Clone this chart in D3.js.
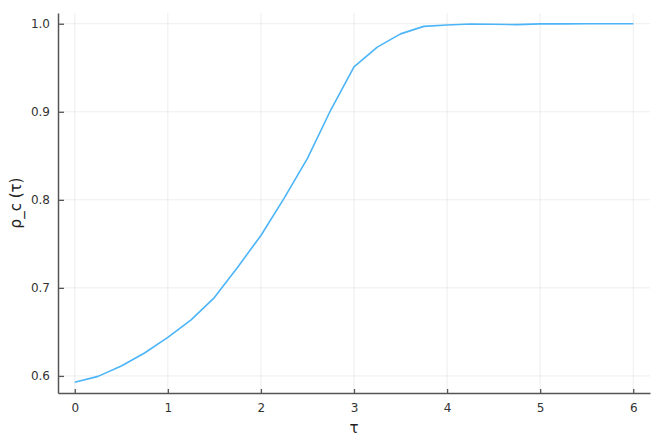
<!DOCTYPE html>
<html>
<head>
<meta charset="utf-8">
<script src="https://cdn.jsdelivr.net/npm/d3@7"></script>
<style>
  body { margin: 0; background: #fff; }
  svg { font-family: "DejaVu Sans", sans-serif; }
</style>
</head>
<body>
<div id="chart"></div>
<script>
// tau values and rho_c(tau)
var tau = [0, 0.25, 0.5, 0.75, 1, 1.25, 1.5, 1.75, 2, 2.25, 2.5, 2.75, 3,
           3.25, 3.5, 3.75, 4, 4.25, 4.5, 4.75, 5, 5.25, 5.5, 5.75, 6];
var rho = [0.5928, 0.5995, 0.6112, 0.626, 0.6437, 0.6636, 0.689, 0.7235, 0.7595,
           0.802, 0.847, 0.902, 0.951, 0.9735, 0.9885, 0.997, 0.9985, 0.9997,
           0.9995, 0.999, 0.9998, 0.9999, 1.0, 1.0, 1.0];
var xTicks = [0, 1, 2, 3, 4, 5, 6];
var yTicks = [0.6, 0.7, 0.8, 0.9, 1.0];

var width = 664, height = 443;
var plotL = 58, plotR = 650, plotT = 13, plotB = 393;

var svg = d3.select("#chart").append("svg")
    .attr("width", width)
    .attr("height", height);

var x = d3.scaleLinear().domain([-0.18, 6.18]).range([plotL, plotR]);
var y = d3.scaleLinear().domain([0.5806, 1.0122]).range([plotB, plotT]);

// grid
svg.append("g").selectAll("line").data(xTicks).join("line")
    .attr("x1", d => x(d)).attr("x2", d => x(d))
    .attr("y1", plotT).attr("y2", plotB)
    .attr("stroke", "#000").attr("stroke-opacity", 0.07);
svg.append("g").selectAll("line").data(yTicks).join("line")
    .attr("x1", plotL).attr("x2", plotR)
    .attr("y1", d => y(d)).attr("y2", d => y(d))
    .attr("stroke", "#000").attr("stroke-opacity", 0.07);

// axes
var xAxis = svg.append("g")
    .attr("transform", "translate(0," + plotB + ")")
    .call(d3.axisBottom(x).tickValues(xTicks).tickFormat(d3.format("d"))
        .tickSizeInner(-4).tickSizeOuter(0).tickPadding(10));
var yAxis = svg.append("g")
    .attr("transform", "translate(" + plotL + ",0)")
    .call(d3.axisLeft(y).tickValues(yTicks).tickFormat(d3.format(".1f"))
        .tickSizeInner(-6).tickSizeOuter(0).tickPadding(8));

[xAxis, yAxis].forEach(function(a) {
  a.attr("font-family", null).attr("font-size", null);
  a.select(".domain").attr("stroke", "#555").attr("stroke-width", 1.5);
  a.selectAll(".tick line").attr("stroke", "#555").attr("stroke-width", 1.3);
  a.selectAll(".tick text").attr("fill", "#333").attr("font-size", 12);
});

// line
var line = d3.line()
    .x((d, i) => x(tau[i]))
    .y(d => y(d));
svg.append("path")
    .datum(rho)
    .attr("fill", "none")
    .attr("stroke", "#4cb5f8")
    .attr("stroke-width", 1.6)
    .attr("stroke-linejoin", "round")
    .attr("d", line);

// labels
svg.append("text")
    .attr("x", (plotL + plotR) / 2)
    .attr("y", 433)
    .attr("text-anchor", "middle")
    .attr("fill", "#222")
    .attr("font-size", 15)
    .text("τ");
svg.append("text")
    .attr("transform", "translate(21," + (plotT + plotB) / 2 + ") rotate(-90)")
    .attr("text-anchor", "middle")
    .attr("fill", "#222")
    .attr("font-size", 15)
    .text("ρ_c (τ)");
</script>
</body>
</html>
